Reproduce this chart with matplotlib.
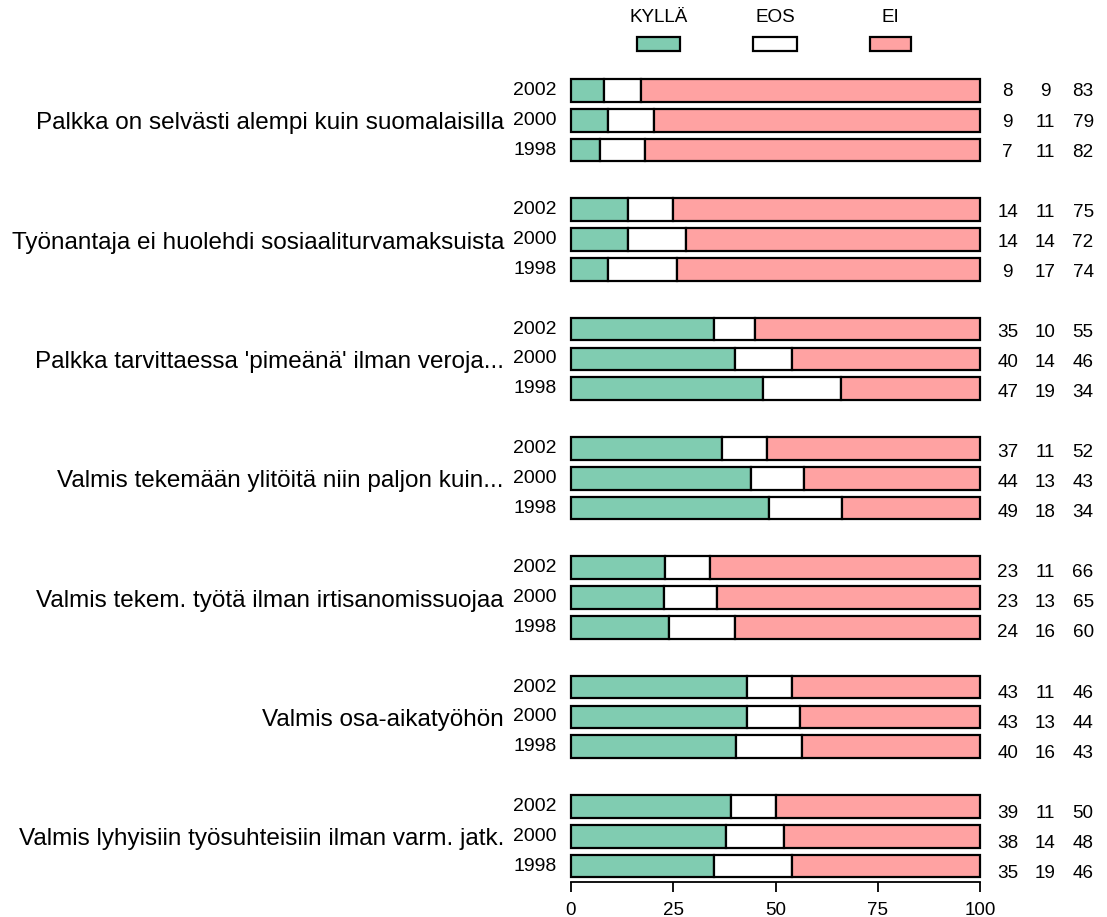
import matplotlib
matplotlib.use("Agg")
import matplotlib.pyplot as plt
from matplotlib.patches import Rectangle

plt.rcParams['font.family'] = ['Liberation Sans', 'DejaVu Sans']

categories = [
    "Palkka on selvästi alempi kuin suomalaisilla",
    "Työnantaja ei huolehdi sosiaaliturvamaksuista",
    "Palkka tarvittaessa 'pimeänä' ilman veroja...",
    "Valmis tekemään ylitöitä niin paljon kuin...",
    "Valmis tekem. työtä ilman irtisanomissuojaa",
    "Valmis osa-aikatyöhön",
    "Valmis lyhyisiin työsuhteisiin ilman varm. jatk.",
]
years = ["2002", "2000", "1998"]
series_names = ["KYLLÄ", "EOS", "EI"]
colors = ["#80CCB1", "#FFFFFF", "#FFA2A2"]

# values per category: rows = years (2002, 2000, 1998)
kylla = [[8, 9, 7], [14, 14, 9], [35, 40, 47], [37, 44, 49], [23, 23, 24], [43, 43, 40], [39, 38, 35]]
eos = [[9, 11, 11], [11, 14, 17], [10, 14, 19], [11, 13, 18], [11, 13, 16], [11, 13, 16], [11, 14, 19]]
ei = [[83, 79, 82], [75, 72, 74], [55, 46, 34], [52, 43, 34], [66, 65, 60], [46, 44, 43], [50, 48, 46]]
xticks = [0, 25, 50, 75, 100]

W, H = 1107, 917
fig = plt.figure(figsize=(W / 100, H / 100), dpi=100)

slot = 29.83
y0px = 90.5
bottom_px = 881.7
top_px = 62.0
s_bottom = (bottom_px - y0px) / slot
s_top = (top_px - y0px) / slot

ax_left = 571 / W
ax_w = (980 - 571) / W
ax = fig.add_axes([ax_left, 1 - bottom_px / H, ax_w, (bottom_px - top_px) / H])
ax.set_xlim(0, 100)
ax.set_ylim(s_bottom, s_top)

fs = 13.6
bar_h = 0.76
for g, cat in enumerate(categories):
    for j, yr in enumerate(years):
        s = 4 * g + j
        vals = [kylla[g][j], eos[g][j], ei[g][j]]
        tot = sum(vals)
        left = 0
        for v, c in zip(vals, colors):
            w = v / tot * 100
            ax.barh(s, w, left=left, height=bar_h, color=c, edgecolor='black',
                    linewidth=1.6, clip_on=False)
            left += w
        ax.text(-3.6, s, yr, ha='right', va='center', fontsize=14)
        ly = s * 1.0075 + 0.05
        for xv, v in zip([106.8, 115.9, 125.2], vals):
            ax.text(xv, ly, str(v), ha='center', va='center', fontsize=fs, clip_on=False)
    ax.text(-16.4, 4 * g + 1 + 0.1, cat, ha='right', va='center', fontsize=17.5)

for sp in ['left', 'right', 'top']:
    ax.spines[sp].set_visible(False)
ax.spines['bottom'].set_linewidth(1.3)
ax.set_yticks([])
ax.set_xticks(xticks)
ax.set_xticklabels([str(t) for t in xticks])
ax.tick_params(axis='x', length=7, width=1.3, labelsize=13.5, pad=7.5)

# legend
leg_boxes = [(637, 680), (753, 797), (870, 911)]
for (x1, x2), name, c in zip(leg_boxes, series_names, colors):
    fig.patches.append(Rectangle((x1 / W, 1 - 51 / H), (x2 - x1) / W, 14 / H,
                                 transform=fig.transFigure, facecolor=c,
                                 edgecolor='black', linewidth=1.6))
    fig.text((x1 + x2) / 2 / W, 1 - 18 / H, name, ha='center', va='center', fontsize=fs)

fig.savefig("out.png", dpi=100)
